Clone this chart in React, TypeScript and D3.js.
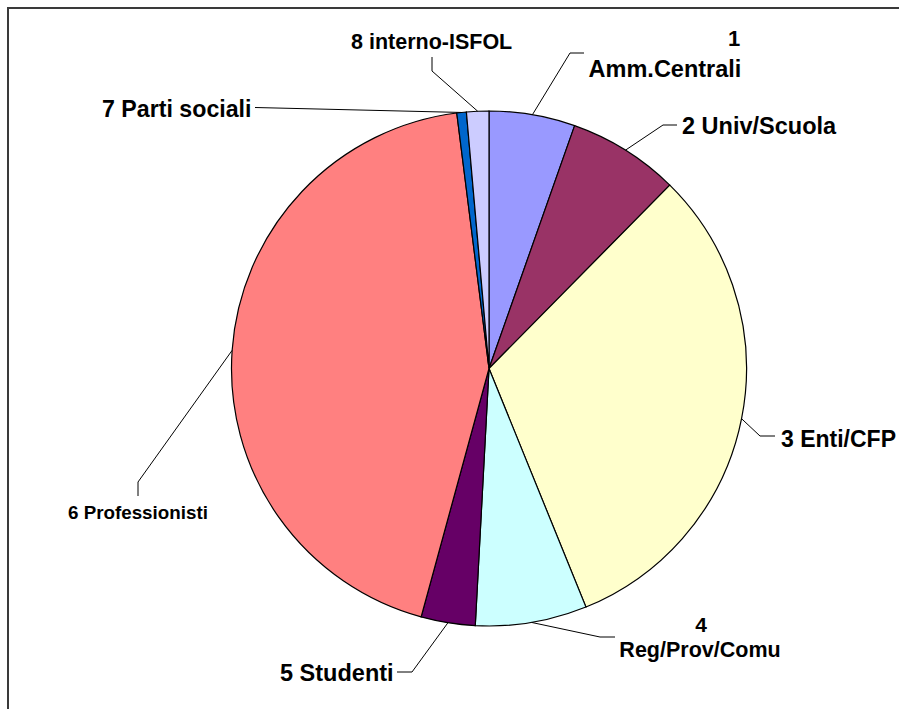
import React from "react";
import * as d3 from "d3";

const categories = [
  "1 Amm.Centrali",
  "2 Univ/Scuola",
  "3 Enti/CFP",
  "4 Reg/Prov/Comu",
  "5 Studenti",
  "6 Professionisti",
  "7 Parti sociali",
  "8 interno-ISFOL",
];
const values = [5.4, 7.0, 31.5, 7.0, 3.4, 43.8, 0.6, 1.4];
const colors = ["#9999FF", "#993366", "#FFFFCC", "#CCFFFF", "#660066", "#FF8080", "#0066CC", "#CCCCFF"];

// label text lines per slice
const labelLines = [
  ["1", "Amm.Centrali"],
  ["2 Univ/Scuola"],
  ["3 Enti/CFP"],
  ["4", "Reg/Prov/Comu"],
  ["5 Studenti"],
  ["6 Professionisti"],
  ["7 Parti sociali"],
  ["8 interno-ISFOL"],
];

// layout of labels (positions, not data)
const labelLayout = [
  { lines: [{ x: 734, y: 46, anchor: "middle", fs: 22 }, { x: 665, y: 77, anchor: "middle", fs: 23.5 }], path: [[570, 53], [584, 53]] },
  { lines: [{ x: 682, y: 134, anchor: "start", fs: 23.5 }], path: [[663, 125], [677, 125]] },
  { lines: [{ x: 781, y: 447, anchor: "start", fs: 23 }], path: [[760, 436], [775, 436]] },
  { lines: [{ x: 701, y: 632, anchor: "middle", fs: 21 }, { x: 700, y: 657, anchor: "middle", fs: 21.5 }], path: [[600, 637], [615, 637]] },
  { lines: [{ x: 280, y: 681, anchor: "start", fs: 23.5 }], path: [[412, 672], [397, 672]] },
  { lines: [{ x: 68, y: 519, anchor: "start", fs: 18.8 }], path: [[138, 482], [138, 496]] },
  { lines: [{ x: 102, y: 117, anchor: "start", fs: 23.2 }], path: [[255, 107.5]] },
  { lines: [{ x: 351, y: 49, anchor: "start", fs: 21.5 }], path: [[432, 71], [432, 57]] },
];

const cx = 489;
const cy = 368.5;
const R = 257.5;

export default function App() {
  const pie = d3.pie<number>().sort(null).value((d) => d).startAngle(0).endAngle(2 * Math.PI);
  const arcs = pie(values);
  const arcGen = d3.arc<d3.PieArcDatum<number>>().innerRadius(0).outerRadius(R);
  const line = d3.line();

  return (
    <svg width={899} height={709} style={{ position: "absolute", left: 0, top: 0, background: "#fff" }}>
      <rect x={8} y={8} width={1000} height={800} fill="#fff" stroke="#3a3a3a" strokeWidth={2} />
      <g transform={`translate(${cx},${cy})`}>
        {arcs.map((a, i) => (
          <path key={categories[i]} d={arcGen(a) || ""} fill={colors[i]} stroke="#000" strokeWidth={1.2} />
        ))}
      </g>
      {arcs.map((a, i) => {
        const mid = (a.startAngle + a.endAngle) / 2;
        const sx = cx + R * Math.sin(mid);
        const sy = cy - R * Math.cos(mid);
        const pts: [number, number][] = [[sx, sy], ...(labelLayout[i].path as [number, number][])];
        return <path key={"l" + i} d={line(pts) || ""} fill="none" stroke="#000" strokeWidth={1} />;
      })}
      {labelLines.map((lines, i) =>
        lines.map((t, j) => {
          const L = labelLayout[i].lines[j];
          return (
            <text
              key={i + "-" + j}
              x={L.x}
              y={L.y}
              textAnchor={L.anchor as any}
              fontFamily="'Liberation Sans', Arial, sans-serif"
              fontWeight="bold"
              fontSize={L.fs}
              fill="#000"
            >
              {t}
            </text>
          );
        })
      )}
    </svg>
  );
}
